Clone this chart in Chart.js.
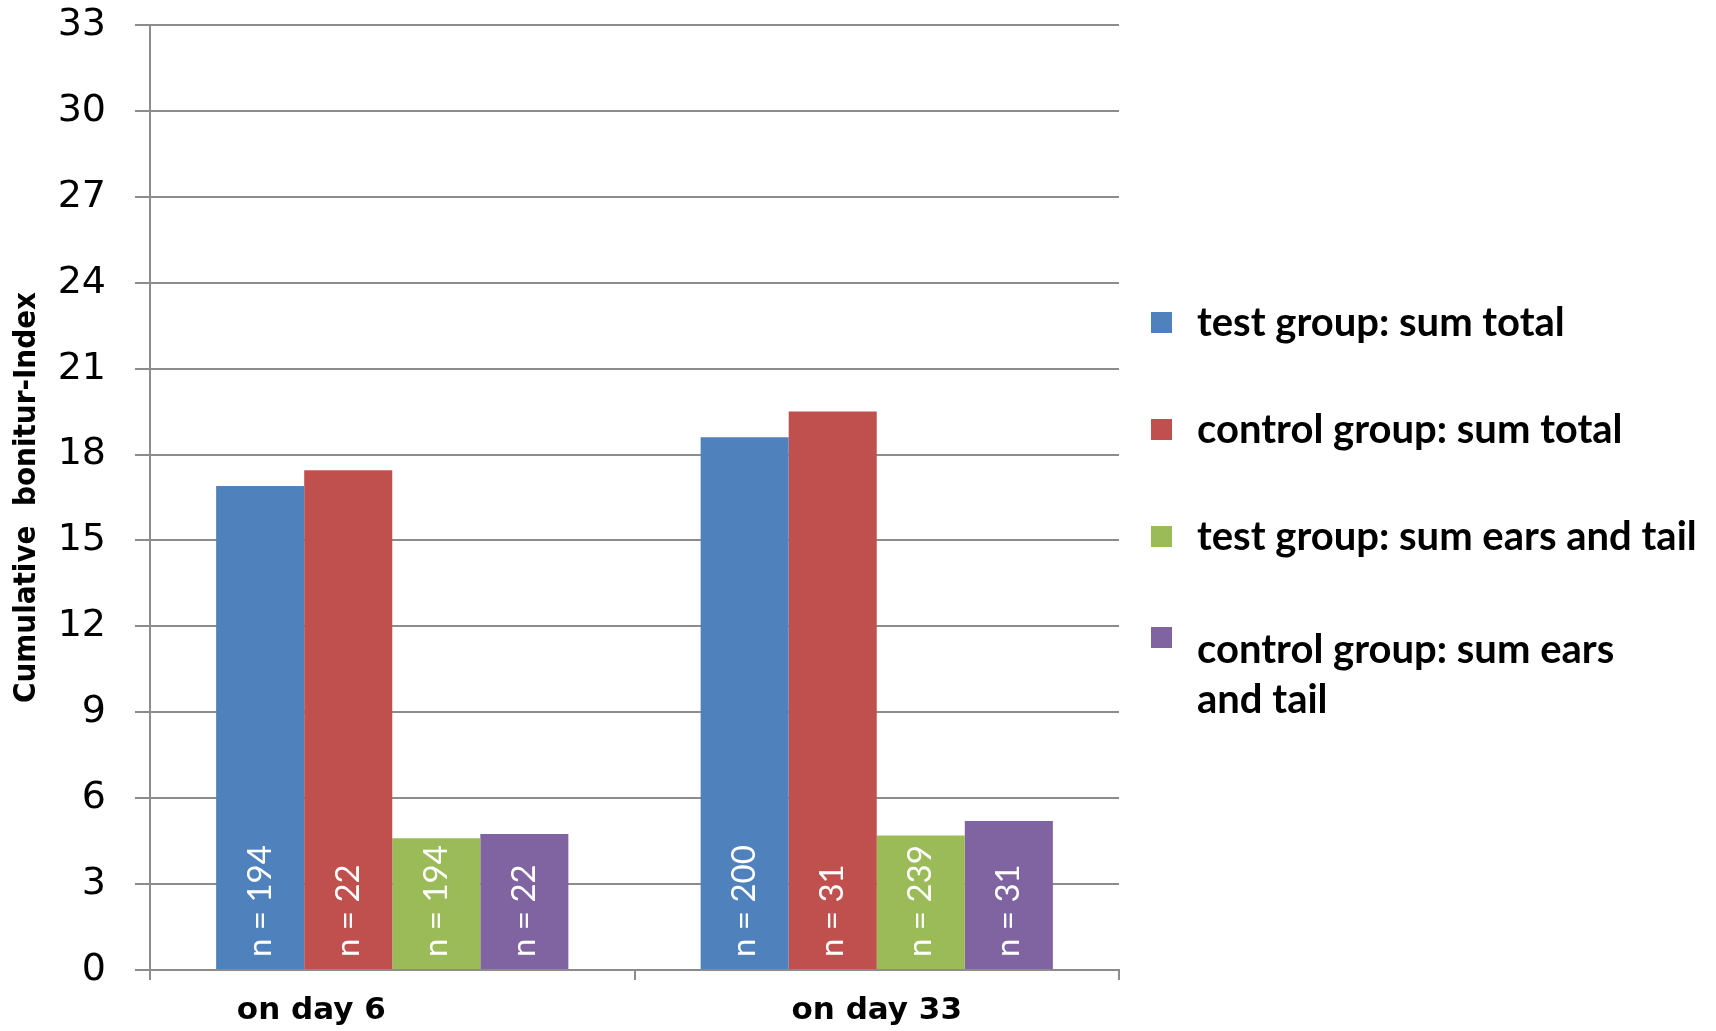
<!DOCTYPE html>
<html>
<head>
<meta charset="utf-8">
<script src="https://cdn.jsdelivr.net/npm/chart.js@4"></script>
<style>
  html, body { margin: 0; padding: 0; background: #fff; }
  #wrap { position: relative; width: 1716px; height: 1031px; }
  #legend {
    position: absolute; left: 1151px; top: 296px;
    font-family: Lato, sans-serif; font-weight: bold; font-size: 40px; color: #000;
  }
  .leg-item { display: flex; align-items: flex-start; height: 107px; }
  .leg-dot { width: 21px; height: 21px; margin-top: 16px; margin-right: 25px; flex: none; }
  .leg-text { white-space: nowrap; line-height: 50px; }
  /* só o último item quebra em duas linhas */
  .leg-item:last-child .leg-dot { margin-top: 10px; }
  .leg-item:last-child .leg-text { white-space: normal; max-width: 450px; margin-top: 6px; }
</style>
</head>
<body>
<div id="wrap">
  <canvas id="chart"></canvas>
  <div id="legend"></div>
</div>
<script>
'use strict';

/* ── Dados ── */
const DAYS   = ['on day 6', 'on day 33'];
const SERIES = [
  'test group: sum total',
  'control group: sum total',
  'test group: sum ears and tail',
  'control group: sum ears and tail',
];
const TEST_TOTAL    = [16.9, 18.6];
const CONTROL_TOTAL = [17.45, 19.5];
const TEST_EARS     = [4.6, 4.7];
const CONTROL_EARS  = [4.75, 5.2];
const N_COUNTS = [
  [194, 200],
  [22, 31],
  [194, 239],
  [22, 31],
];
const COLORS = ['#4F81BD', '#C0504D', '#9BBB59', '#8064A2'];
const Y_TICKS = [0, 3, 6, 9, 12, 15, 18, 21, 24, 27, 30, 33];

const GRID = '#8c8c8c';

/* legenda manual */
document.getElementById('legend').innerHTML = SERIES.map((s, i) => `
  <div class="leg-item">
    <span class="leg-dot" style="background:${COLORS[i]}"></span>
    <span class="leg-text">${s}</span>
  </div>`).join('');

/* texto "n = ..." girado dentro de cada barra */
const barLabels = {
  id: 'barLabels',
  afterDatasetsDraw(chart) {
    const ctx = chart.ctx;
    ctx.save();
    ctx.fillStyle = '#fff';
    ctx.font = '33px Lato';
    ctx.textAlign = 'left';
    ctx.textBaseline = 'middle';
    chart.data.datasets.forEach((ds, i) => {
      chart.getDatasetMeta(i).data.forEach((bar, j) => {
        ctx.save();
        ctx.translate(bar.x, bar.base - 12);
        ctx.rotate(-Math.PI / 2);
        ctx.fillText('n = ' + N_COUNTS[i][j], 0, 0);
        ctx.restore();
      });
    });
    ctx.restore();
  },
};

const values = [TEST_TOTAL, CONTROL_TOTAL, TEST_EARS, CONTROL_EARS];

new Chart(document.getElementById('chart'), {
  type: 'bar',
  data: {
    labels: DAYS,
    datasets: SERIES.map((s, i) => ({
      label: s,
      data: values[i],
      backgroundColor: COLORS[i],
      borderWidth: 0,
      barPercentage: 1,
      categoryPercentage: 0.727,
    })),
  },
  options: {
    responsive: true,
    maintainAspectRatio: false,
    animation: false,
    layout: { padding: { top: 0, right: 597, left: 0, bottom: 0 } },
    plugins: { legend: { display: false }, tooltip: { enabled: false } },
    scales: {
      x: {
        afterFit: s => { s.height = 61; },
        grid: { drawOnChartArea: false, drawTicks: true, tickLength: 10, color: GRID, lineWidth: 2 },
        border: { color: GRID, width: 2 },
        ticks: {
          color: '#000',
          padding: 12,
          font: { family: 'DejaVu Sans', weight: 'bold', size: 31 },
          /* o rótulo do primeiro grupo fica deslocado à esquerda no original */
          callback: (v, i) => i === 0 ? DAYS[i] + ' '.repeat(15) : DAYS[i],
        },
      },
      y: {
        min: 0,
        max: 33,
        afterFit: s => { s.width = 150; s.paddingTop = 25; s.paddingBottom = 0; },
        afterBuildTicks: s => { s.ticks = Y_TICKS.map(v => ({ value: v })); },
        grid: { color: GRID, lineWidth: 2, tickLength: 15 },
        border: { color: GRID, width: 2 },
        ticks: {
          color: '#000',
          padding: 29,
          font: { family: 'DejaVu Sans', size: 38 },
        },
        title: {
          display: true,
          text: 'Cumulative  bonitur-Index',
          color: '#000',
          padding: { top: 8, bottom: 0 },
          font: { family: 'DejaVu Sans Condensed', weight: 'bold', size: 31 },
        },
      },
    },
  },
  plugins: [barLabels],
});
</script>
</body>
</html>
